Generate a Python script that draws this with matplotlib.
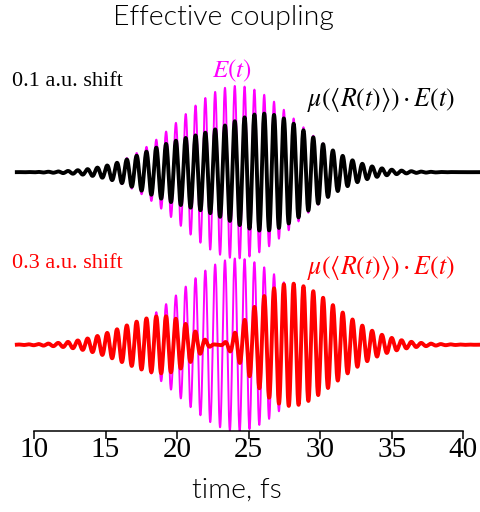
import numpy as np
import matplotlib.pyplot as plt

plt.rcParams["mathtext.fontset"] = "stix"

# time window of the simulation, fs
t_start, t_end = 8.8, 41.3

# laser pulse E(t): gaussian envelope, carrier period, time of a field maximum
pulse_center = 24.2
pulse_sigma = 4.05
carrier_period = 0.686
carrier_peak = 24.03

# dipole factor for the 0.1 a.u. shift: dip depth / position / width
dip_depth_01 = 0.47
dip_center_01 = 22.3
dip_width_01 = 3.3

# dipole factor for the 0.3 a.u. shift: node position, slope, rounding
node_center_03 = 22.8
node_slope_03 = 0.23
node_round_03 = 2.2

# vertical offsets of the two traces
offset_01 = 2.0
offset_03 = 0.0

t = np.linspace(t_start, t_end, 6000)
envelope = np.exp(-(t - pulse_center) ** 2 / (2 * pulse_sigma ** 2))
E = envelope * np.cos(2 * np.pi * (t - carrier_peak) / carrier_period)

mu_01 = 1 - dip_depth_01 * np.exp(-(t - dip_center_01) ** 2 / (2 * dip_width_01 ** 2))
d = t - node_center_03
mu_03 = node_slope_03 * d ** 2 / np.sqrt(d ** 2 + node_round_03 ** 2)

fig = plt.figure(figsize=(4.81, 5.12), dpi=100)
H = 512.0
ax = fig.add_axes([0, 81 / H, 1, 371 / H])

ax.plot(t, E + offset_01, color="#ff00ff", lw=1.4, zorder=1)
ax.plot(t, mu_01 * E + offset_01, color="black", lw=2.8, zorder=2)
ax.plot(t, E + offset_03, color="#ff00ff", lw=1.4, zorder=1)
ax.plot(t, mu_03 * E + offset_03, color="red", lw=2.8, zorder=2)

ax.set_xlim(10 - 34 / 14.31, 10 + 447 / 14.31)
ax.set_ylim(-1, 3.3)
for s in ["left", "right", "top"]:
    ax.spines[s].set_visible(False)
ax.spines["bottom"].set_bounds(10, 40)
ax.spines["bottom"].set_linewidth(1.1)
ax.set_yticks([])
ax.set_xticks(np.arange(10, 41, 5))
ax.tick_params(axis="x", direction="out", length=5.5, width=1.1, pad=-1,
               labelsize=21, labelfontfamily="Liberation Serif")

fig.text(223 / 481, 1 - 17 / H, "Effective coupling", ha="center", va="center",
         fontsize=20.5, family="Lato", fontweight=300, color="black")
fig.text(237 / 481, 1 - 490 / H, "time, fs", ha="center", va="center",
         fontsize=20.5, family="Lato", fontweight=300, color="black")

fig.text(12 / 481, 1 - 81 / H, "0.1 a.u. shift", ha="left", va="center",
         fontsize=16, family="Liberation Serif", color="black")
fig.text(12 / 481, 1 - 264 / H, "0.3 a.u. shift", ha="left", va="center",
         fontsize=16, family="Liberation Serif", color="red")

fig.text(232 / 481, 1 - 71 / H, r"$E(t)$", ha="center", va="center",
         fontsize=18, color="#ff00ff")
fig.text(381 / 481, 1 - 99 / H, r"$\mu(\langle R(t)\rangle)\cdot E(t)$",
         ha="center", va="center", fontsize=18.5, color="black")
fig.text(381 / 481, 1 - 268 / H, r"$\mu(\langle R(t)\rangle)\cdot E(t)$",
         ha="center", va="center", fontsize=18.5, color="red")

fig.savefig("out.png", dpi=100)
